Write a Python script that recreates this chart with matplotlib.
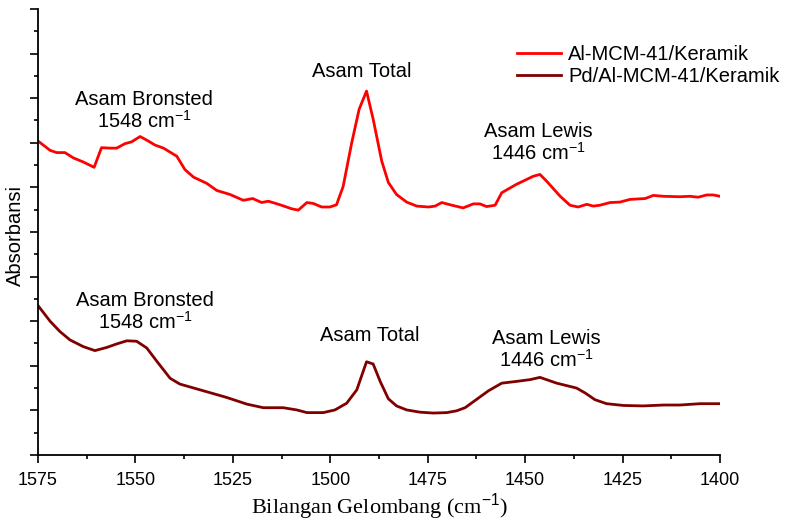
import matplotlib
matplotlib.use('Agg')
import matplotlib.pyplot as plt
from matplotlib.ticker import MultipleLocator

# wavenumber (cm-1) and absorbance (arbitrary units, offset)
wn_al = [1575.0, 1571.9, 1570.2, 1568.1, 1565.9, 1563.4, 1560.6, 1558.7, 1556.5, 1554.8,
         1552.7, 1551.0, 1548.8, 1546.7, 1545.0, 1542.8, 1539.4, 1537.3, 1535.1, 1531.7,
         1529.1, 1525.7, 1522.3, 1519.9, 1517.6, 1515.9, 1512.9, 1509.9, 1508.2, 1506.0,
         1504.4, 1502.2, 1500.1, 1498.4, 1496.7, 1494.5, 1492.6, 1490.7, 1489.0, 1486.8,
         1485.1, 1483.0, 1480.4, 1477.8, 1474.8, 1473.1, 1471.4, 1468.8, 1465.9, 1463.3,
         1461.6, 1459.9, 1457.7, 1456.0, 1452.2, 1447.9, 1446.2, 1444.5, 1441.0, 1438.5,
         1436.4, 1434.2, 1432.5, 1430.8, 1428.2, 1425.7, 1423.1, 1419.2, 1417.1, 1414.5,
         1410.3, 1407.7, 1405.6, 1403.4, 1401.7, 1400.0]
abs_al = [7.04, 6.83, 6.78, 6.78, 6.66, 6.57, 6.45, 6.89, 6.88, 6.88,
          6.98, 7.02, 7.14, 7.04, 6.95, 6.88, 6.70, 6.40, 6.23, 6.09,
          5.93, 5.84, 5.71, 5.75, 5.66, 5.69, 5.61, 5.52, 5.49, 5.66,
          5.64, 5.56, 5.56, 5.61, 6.02, 7.00, 7.75, 8.16, 7.53, 6.59,
          6.11, 5.84, 5.67, 5.58, 5.56, 5.58, 5.66, 5.60, 5.54, 5.63,
          5.63, 5.57, 5.60, 5.88, 6.07, 6.25, 6.29, 6.14, 5.80, 5.60,
          5.56, 5.62, 5.58, 5.60, 5.66, 5.67, 5.73, 5.75, 5.82, 5.80,
          5.79, 5.80, 5.78, 5.83, 5.83, 5.80]

wn_pd = [1575.0, 1571.9, 1569.4, 1566.8, 1563.4, 1560.4, 1557.4, 1554.8, 1552.2, 1549.7,
         1547.1, 1544.5, 1541.1, 1538.6, 1533.4, 1526.6, 1521.4, 1517.2, 1512.1, 1508.6,
         1506.0, 1501.8, 1498.8, 1495.8, 1493.2, 1490.7, 1489.0, 1487.2, 1485.1, 1483.0,
         1480.4, 1477.0, 1473.6, 1470.1, 1467.6, 1465.4, 1462.4, 1459.4, 1456.0, 1452.2,
         1448.7, 1446.2, 1441.9, 1436.8, 1434.6, 1432.1, 1429.1, 1424.8, 1419.7, 1414.5,
         1410.3, 1405.1, 1400.0]
abs_pd = [3.35, 3.00, 2.77, 2.58, 2.43, 2.34, 2.41, 2.49, 2.56, 2.55,
          2.40, 2.10, 1.72, 1.59, 1.46, 1.29, 1.14, 1.06, 1.06, 1.01,
          0.95, 0.95, 1.01, 1.16, 1.46, 2.09, 2.04, 1.65, 1.26, 1.10,
          1.01, 0.96, 0.94, 0.95, 0.99, 1.06, 1.25, 1.44, 1.61, 1.65,
          1.69, 1.74, 1.61, 1.50, 1.39, 1.24, 1.15, 1.11, 1.10, 1.12,
          1.12, 1.15, 1.15]

labels = ['Al-MCM-41/Keramik', 'Pd/Al-MCM-41/Keramik']
colors = ['#ff0000', '#800000']

plt.rcParams['font.family'] = ['Liberation Sans', 'DejaVu Sans']
plt.rcParams['mathtext.fontset'] = 'custom'
plt.rcParams['mathtext.rm'] = 'Liberation Sans'
plt.rcParams['mathtext.it'] = 'Liberation Sans:italic'

fig = plt.figure(figsize=(7.85, 5.22), dpi=100)
ax = fig.add_axes([0.0484, 0.1284, 0.8688, 0.8544])

ax.plot(wn_al, abs_al, color=colors[0], lw=2.0, label=labels[0])
ax.plot(wn_pd, abs_pd, color=colors[1], lw=2.0, label=labels[1])

ax.set_xlim(1575, 1400)
ax.set_ylim(0, 10)
ax.xaxis.set_major_locator(MultipleLocator(25))
ax.xaxis.set_minor_locator(MultipleLocator(12.5))
ax.yaxis.set_major_locator(MultipleLocator(1))
ax.yaxis.set_minor_locator(MultipleLocator(0.5))
ax.set_yticklabels([])
ax.tick_params(which='major', direction='out', length=6, width=1.2, labelsize=13, pad=6)
ax.tick_params(which='minor', direction='out', length=3, width=1.2)
for s in ['top', 'right']:
    ax.spines[s].set_visible(False)
for s in ['left', 'bottom']:
    ax.spines[s].set_linewidth(1.3)

ax.set_xlabel('Bilangan Gelombang (cm$^{-1}$)', family='Liberation Serif',
              fontsize=16, labelpad=2)
fig.text(15 / 785, 1 - 235 / 522, 'Absorbansi', rotation=90, ha='center', va='center', fontsize=14.5)

# peak annotations
fs = 14.5
ax.text(1547.8, 7.72, 'Asam Bronsted\n1548 cm$^{-1}$', ha='center', va='center', fontsize=fs, linespacing=1.05)
ax.text(1491.9, 8.6, 'Asam Total', ha='center', va='center', fontsize=fs)
ax.text(1446.5, 7.0, 'Asam Lewis\n1446 cm$^{-1}$', ha='center', va='center', fontsize=fs, linespacing=1.05)
ax.text(1547.5, 3.2, 'Asam Bronsted\n1548 cm$^{-1}$', ha='center', va='center', fontsize=fs, linespacing=1.05)
ax.text(1489.8, 2.67, 'Asam Total', ha='center', va='center', fontsize=fs)
ax.text(1444.6, 2.35, 'Asam Lewis\n1446 cm$^{-1}$', ha='center', va='center', fontsize=fs, linespacing=1.05)

ax.legend(loc='upper left', bbox_to_anchor=(0.702, 0.92), frameon=False, fontsize=14.5,
          borderpad=0, borderaxespad=0, handlelength=2.2, handletextpad=0.35, labelspacing=0.15)

fig.savefig('out.png', dpi=100)
